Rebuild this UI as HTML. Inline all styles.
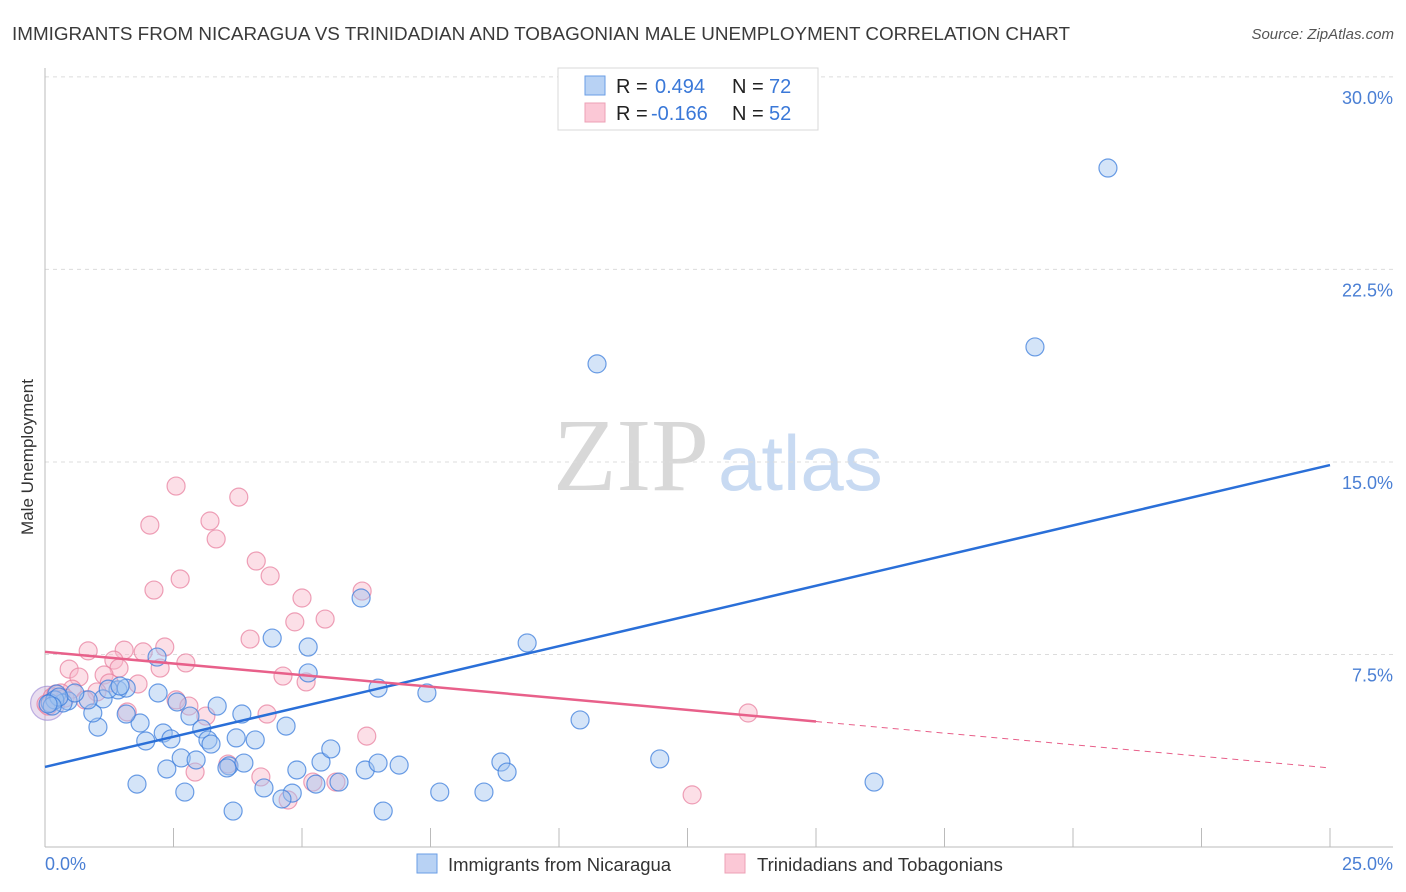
<!DOCTYPE html>
<html><head><meta charset="utf-8"><style>
body{margin:0;background:#fff;font-family:"Liberation Sans",sans-serif;}
svg{display:block}
</style></head><body>
<svg width="1406" height="892" viewBox="0 0 1406 892" id="chart">
<text x="12" y="40" font-size="18" fill="#3a3a3a" textLength="1058" lengthAdjust="spacingAndGlyphs">IMMIGRANTS FROM NICARAGUA VS TRINIDADIAN AND TOBAGONIAN MALE UNEMPLOYMENT CORRELATION CHART</text>
<text x="1394" y="39" font-size="15" fill="#555" font-style="italic" text-anchor="end">Source: ZipAtlas.com</text>
<text x="553" y="490" font-size="104" fill="#d8d8d8" font-family="Liberation Serif,serif">ZIP</text>
<text x="718" y="490" font-size="78" fill="#c8daf2">atlas</text>
<text transform="translate(33,457) rotate(-90)" font-size="17" fill="#333" text-anchor="middle">Male Unemployment</text>
<g id="grid"></g>
<g id="pts"></g>
<g id="lines"></g>
<g>
<rect x="558" y="68" width="260" height="62" fill="#fff" stroke="#d8d8d8"/>
<rect x="585" y="76" width="20" height="19" fill="#b8d2f4" stroke="#6a9ee6"/>
<rect x="585" y="103" width="20" height="19" fill="#fbc8d6" stroke="#eca0b6"/>
<text y="93" font-size="20"><tspan x="616" fill="#222">R = </tspan><tspan x="655" fill="#3a78d8">0.494</tspan><tspan x="732" fill="#222">N = </tspan><tspan x="769" fill="#3a78d8">72</tspan></text>
<text y="120" font-size="20"><tspan x="616" fill="#222">R = </tspan><tspan x="651" fill="#3a78d8">-0.166</tspan><tspan x="732" fill="#222">N = </tspan><tspan x="769" fill="#3a78d8">52</tspan></text>
</g>
<g>
<rect x="417" y="854" width="20" height="19" fill="#b8d2f4" stroke="#6a9ee6"/>
<text x="448" y="871" font-size="18.5" fill="#333">Immigrants from Nicaragua</text>
<rect x="725" y="854" width="20" height="19" fill="#fbc8d6" stroke="#eca0b6"/>
<text x="757" y="871" font-size="18.5" fill="#333">Trinidadians and Tobagonians</text>
</g>
</svg>
<script>
const xTicks=[0,2.5,5,7.5,10,12.5,15,17.5,20,22.5,25];
const yTicks=[7.5,15,22.5,30];
const yTickLabels=["7.5%","15.0%","22.5%","30.0%"];
const xLabels=["0.0%","25.0%"];
const blueX=[20.68,19.26,10.74,9.38,6.15,4.42,5.12,5.12,6.48,7.43,10.41,11.96,16.13,2.18,2.57,2.82,3.35,3.83,4.69,3.05,3.17,3.23,3.72,4.09,1.96,2.30,2.45,1.85,1.58,1.03,0.93,1.13,1.42,1.23,0.84,0.45,0.23,0.35,0.58,0.10,0.19,1.58,2.20,2.65,2.94,3.58,3.87,2.37,1.79,2.72,3.54,4.26,4.90,5.37,5.56,5.72,6.23,6.48,6.89,8.87,8.99,5.27,4.81,4.61,3.66,6.58,7.68,8.54,0.27,0.14,0.06,1.46];
const blueY=[26.45,19.48,18.82,7.95,9.70,8.14,7.79,6.78,6.19,6.00,4.95,3.43,2.53,7.40,5.65,5.10,5.49,5.18,4.71,4.60,4.17,4.01,4.25,4.17,4.13,4.44,4.21,4.83,5.18,4.67,5.22,5.77,6.12,6.15,5.73,5.69,5.96,5.61,6.00,5.61,5.73,6.19,6.00,3.47,3.39,3.16,3.27,3.04,2.45,2.14,3.08,2.30,3.00,3.31,3.82,2.53,3.00,3.27,3.19,3.31,2.92,2.45,2.10,1.87,1.40,1.40,2.14,2.14,5.84,5.49,5.57,6.27];
const pinkX=[2.55,3.77,2.04,3.21,3.33,2.63,2.12,4.11,4.38,5.00,6.17,5.45,3.99,4.86,0.84,1.54,2.33,1.91,2.74,2.24,1.34,1.44,0.47,0.66,1.15,1.81,1.25,1.01,0.53,0.31,0.14,0.02,2.55,2.80,3.13,1.60,4.32,4.63,5.08,6.26,2.92,3.56,4.20,4.73,5.21,5.66,12.59,13.68,0.21,0.39,0.06,0.78];
const pinkY=[14.06,13.63,12.54,12.70,12.00,10.44,10.01,11.14,10.56,9.70,9.97,8.88,8.10,8.77,7.64,7.67,7.79,7.60,7.17,6.97,7.28,6.97,6.93,6.62,6.70,6.35,6.39,6.04,6.15,6.00,5.84,5.57,5.73,5.49,5.10,5.26,5.18,6.66,6.43,4.32,2.92,3.23,2.73,1.83,2.53,2.53,2.03,5.22,5.96,5.80,5.49,5.73];
const blueTrend=[3.12,14.88];
const pinkTrend=[7.6,3.08]; const pinkSolidEnd=15;
const NS="http://www.w3.org/2000/svg";
const X=v=>45+v*51.4, Y=v=>847-v*25.67;
function mk(tag,at,parent){const e=document.createElementNS(NS,tag);for(const k in at)e.setAttribute(k,at[k]);parent.appendChild(e);return e;}
const grid=document.getElementById('grid');
yTicks.forEach((t,i)=>{
 const l=mk('line',{x1:45,x2:1393,y1:Y(t),y2:Y(t),stroke:'#dcdcdc','stroke-dasharray':'4,4'},grid);
 
 
 const tx=mk('text',{x:1393,y:Y(t)+27,'font-size':18,fill:'#4a7fd4','text-anchor':'end'},grid);tx.textContent=yTickLabels[i];
 
 
});
const ax=mk('line',{x1:45,x2:1393,y1:847,y2:847,stroke:'#bbb'},grid);


const ay=mk('line',{x1:45,x2:45,y1:68,y2:847,stroke:'#bbb'},grid);


xTicks.forEach(t=>{const l=mk('line',{x1:X(t),x2:X(t),y1:828,y2:847,stroke:'#bbb'},grid);
 
 });
const xl0=mk('text',{x:45,y:870,'font-size':18,fill:'#4a7fd4'},grid);xl0.textContent=xLabels[0];


const xl1=mk('text',{x:1393,y:870,'font-size':18,fill:'#4a7fd4','text-anchor':'end'},grid);xl1.textContent=xLabels[1];


const pts=document.getElementById('pts');
const big1=mk('circle',{cx:X(0.05),cy:Y(5.6),r:17,fill:'rgba(200,170,215,0.4)',stroke:'rgba(150,130,210,0.6)','stroke-width':1.2},pts);


pinkX.forEach((x,i)=>{const c=mk('circle',{cx:X(x),cy:Y(pinkY[i]),r:9,fill:'rgba(248,184,202,0.45)',stroke:'rgba(232,130,160,0.75)','stroke-width':1.2},pts);
 
 });
blueX.forEach((x,i)=>{const c=mk('circle',{cx:X(x),cy:Y(blueY[i]),r:9,fill:'rgba(160,195,240,0.45)',stroke:'rgba(60,125,220,0.75)','stroke-width':1.2},pts);
 
 });
const lines=document.getElementById('lines');
const bl=mk('line',{x1:X(0),y1:Y(blueTrend[0]),x2:X(25),y2:Y(blueTrend[1]),stroke:'#2a6fd8','stroke-width':2.5},lines);


const pAt=x=>pinkTrend[0]+(pinkTrend[1]-pinkTrend[0])*x/25;
const pl=mk('line',{x1:X(0),y1:Y(pinkTrend[0]),x2:X(pinkSolidEnd),y2:Y(pAt(pinkSolidEnd)),stroke:'#e8608a','stroke-width':2.5},lines);


const pd=mk('line',{x1:X(pinkSolidEnd),y1:Y(pAt(pinkSolidEnd)),x2:X(25),y2:Y(pinkTrend[1]),stroke:'#e8608a','stroke-width':1,'stroke-dasharray':'6,5'},lines);


</script>
</body></html>
